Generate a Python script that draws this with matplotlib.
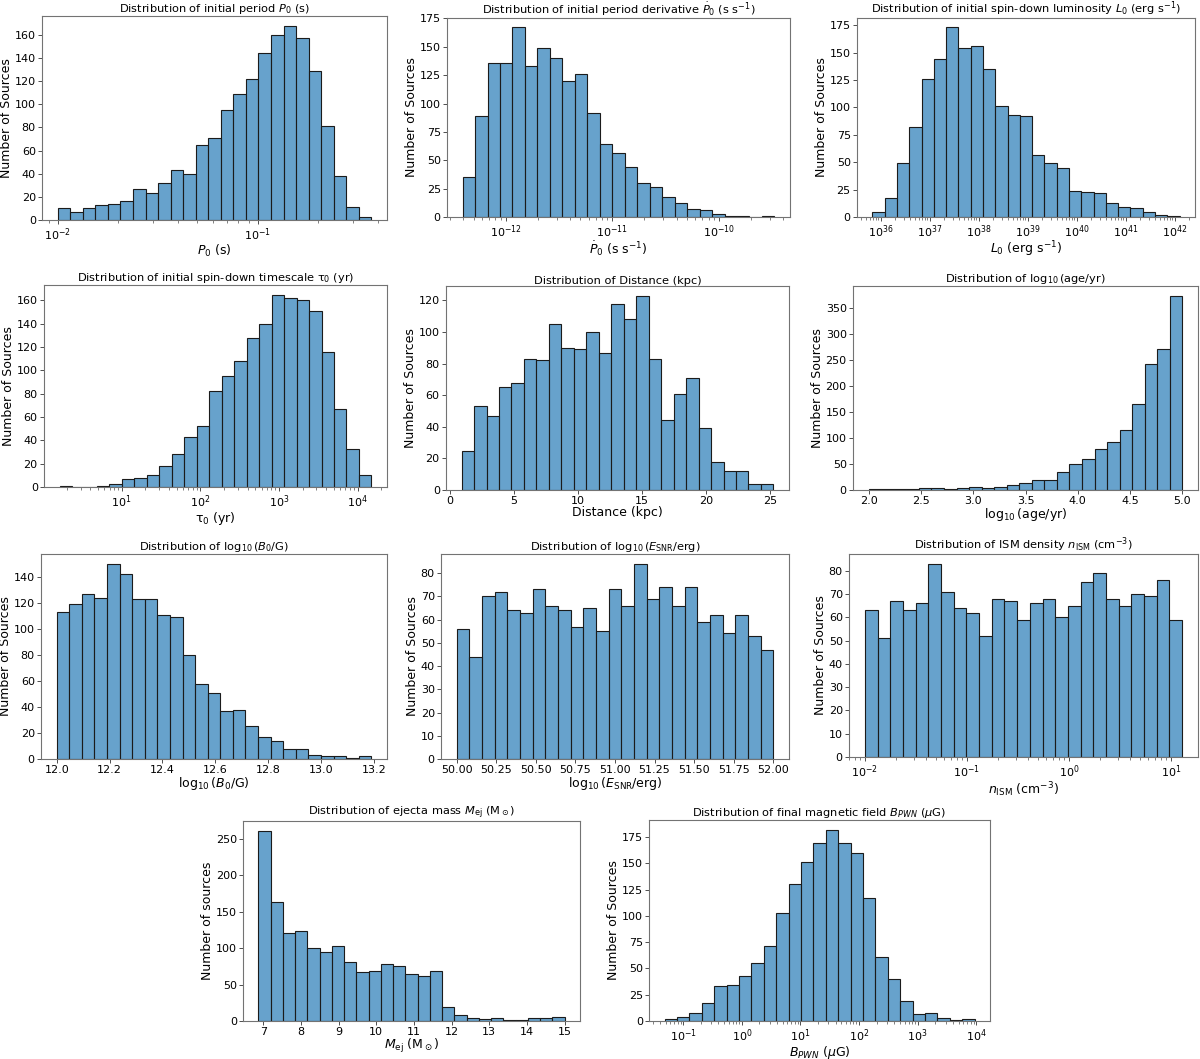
import numpy as np
import matplotlib
matplotlib.use("Agg")
import matplotlib.pyplot as plt

# ---- histogram data (25 bins per panel) ----
P0_RANGE = (1.0e-2, 0.37)
P0_COUNTS = [10, 7, 10, 13, 14, 16, 27, 23, 32, 43, 40, 65, 71, 95, 109,
             122, 144, 160, 168, 157, 129, 81, 38, 11, 3]

PDOT_RANGE = (3.94e-13, 3.31e-10)
PDOT_COUNTS = [35, 89, 136, 136, 167, 133, 149, 140, 120, 126, 92, 64, 56,
               44, 30, 26, 18, 12, 7, 6, 3, 1, 1, 0, 1]

L0_RANGE = (6.8e35, 1.26e42)
L0_COUNTS = [5, 17, 49, 82, 126, 144, 173, 154, 156, 135, 101, 93, 92, 57,
             49, 45, 24, 23, 22, 13, 9, 8, 5, 2, 1]

TAU_RANGE = (1.62, 1.5e4)
TAU_COUNTS = [1, 0, 0, 1, 3, 7, 8, 10, 18, 28, 43, 52, 82, 95, 108, 128,
              140, 165, 162, 160, 151, 116, 67, 33, 10]

DIST_RANGE = (0.9, 25.26)
DIST_COUNTS = [25, 53, 47, 65, 68, 83, 82, 105, 90, 89, 100, 87, 118, 108,
               123, 83, 44, 61, 71, 39, 18, 12, 12, 4, 4]

AGE_RANGE = (2.0, 5.0)
AGE_COUNTS = [1, 1, 1, 2, 4, 3, 1, 3, 5, 4, 6, 10, 14, 20, 20, 35, 51, 60,
              79, 93, 115, 165, 243, 271, 374]

B0_RANGE = (12.0, 13.19)
B0_COUNTS = [113, 119, 127, 124, 150, 142, 123, 123, 111, 109, 80, 58, 51,
             37, 38, 25, 17, 14, 8, 8, 3, 2, 2, 1, 2]

ESNR_RANGE = (50.0, 52.0)
ESNR_COUNTS = [56, 44, 70, 72, 64, 63, 73, 66, 64, 57, 65, 55, 73, 66, 84,
               69, 74, 66, 74, 59, 62, 54, 62, 53, 47]

NISM_RANGE = (1.0e-2, 12.9)
NISM_COUNTS = [63, 51, 67, 63, 66, 83, 71, 64, 62, 52, 68, 67, 59, 66, 68,
               60, 65, 75, 79, 68, 65, 70, 69, 76, 59]

MEJ_RANGE = (6.87, 15.0)
MEJ_COUNTS = [261, 163, 121, 124, 100, 95, 103, 81, 67, 69, 78, 75, 64, 62,
              68, 19, 8, 4, 3, 4, 1, 2, 4, 4, 5]

BPWN_RANGE = (0.048, 9.3e3)
BPWN_COUNTS = [2, 4, 8, 17, 33, 34, 43, 55, 71, 103, 130, 151, 169, 182,
               169, 160, 117, 61, 40, 19, 7, 8, 3, 1, 2]

PANELS = [
    (P0_RANGE, P0_COUNTS, True,
     r"Distribution of initial period $P_0$ (s)", r"$P_0$ (s)", "Number of Sources"),
    (PDOT_RANGE, PDOT_COUNTS, True,
     r"Distribution of initial period derivative $\dot{P}_0$ (s s$^{-1}$)",
     r"$\dot{P}_0$ (s s$^{-1}$)", "Number of Sources"),
    (L0_RANGE, L0_COUNTS, True,
     r"Distribution of initial spin-down luminosity $L_0$ (erg s$^{-1}$)",
     r"$L_0$ (erg s$^{-1}$)", "Number of Sources"),
    (TAU_RANGE, TAU_COUNTS, True,
     r"Distribution of initial spin-down timescale τ$_0$ (yr)", r"τ$_0$ (yr)",
     "Number of Sources"),
    (DIST_RANGE, DIST_COUNTS, False,
     "Distribution of Distance (kpc)", "Distance (kpc)", "Number of Sources"),
    (AGE_RANGE, AGE_COUNTS, False,
     r"Distribution of $\log_{10}(\mathrm{age/yr})$", r"$\log_{10}(\mathrm{age/yr})$",
     "Number of Sources"),
    (B0_RANGE, B0_COUNTS, False,
     r"Distribution of $\log_{10}(B_0/\mathrm{G})$", r"$\log_{10}(B_0/\mathrm{G})$",
     "Number of Sources"),
    (ESNR_RANGE, ESNR_COUNTS, False,
     r"Distribution of $\log_{10}(E_{\mathrm{SNR}}/\mathrm{erg})$",
     r"$\log_{10}(E_{\mathrm{SNR}}/\mathrm{erg})$", "Number of Sources"),
    (NISM_RANGE, NISM_COUNTS, True,
     r"Distribution of ISM density $n_{\mathrm{ISM}}$ (cm$^{-3}$)",
     r"$n_{\mathrm{ISM}}$ (cm$^{-3}$)", "Number of Sources"),
    (MEJ_RANGE, MEJ_COUNTS, False,
     r"Distribution of ejecta mass $M_{\mathrm{ej}}$ (M$_\odot$)",
     r"$M_{\mathrm{ej}}$ (M$_\odot$)", "Number of sources"),
    (BPWN_RANGE, BPWN_COUNTS, True,
     r"Distribution of final magnetic field $B_{PWN}$ ($\mu$G)",
     r"$B_{PWN}$ ($\mu$G)", "Number of Sources"),
]

# axes boxes in pixels: left, top, right, bottom
BOXES = [
    (42, 16, 387, 220), (447, 18, 790, 217), (857, 18, 1195, 217),
    (44, 285, 387, 487), (446, 286, 789, 490), (853, 286, 1198, 490),
    (41, 554, 387, 759), (441, 554, 789, 759), (849, 554, 1198, 757),
    (243, 821, 580, 1021), (649, 820, 990, 1021),
]

W, H = 1200, 1059
FACE = (0.122, 0.467, 0.706, 0.68)

fig = plt.figure(figsize=(W / 100, H / 100), dpi=100)

for (rng, counts, logx, title, xlabel, ylabel), (l, t, r, b) in zip(PANELS, BOXES):
    ax = fig.add_axes([l / W, 1 - b / H, (r - l) / W, (b - t) / H])
    n = len(counts)
    if logx:
        ax.set_xscale("log")
        edges = np.geomspace(rng[0], rng[1], n + 1)
    else:
        edges = np.linspace(rng[0], rng[1], n + 1)
    ax.bar(edges[:-1], counts, width=np.diff(edges), align="edge",
           facecolor=FACE, edgecolor="#1b1b1b", linewidth=0.8)
    ax.set_title(title, fontsize=8.2, pad=1.5)
    ax.set_xlabel(xlabel, fontsize=9, labelpad=0)
    ax.set_ylabel(ylabel, fontsize=9, labelpad=1)
    ax.tick_params(labelsize=8, length=3, width=0.7, pad=1.5, color="0.3")
    ax.tick_params(which="minor", length=1.8, width=0.5, color="0.3")
    for sp in ax.spines.values():
        sp.set_color("0.45")
        sp.set_linewidth(0.8)

fig.savefig("out.png", dpi=100)
